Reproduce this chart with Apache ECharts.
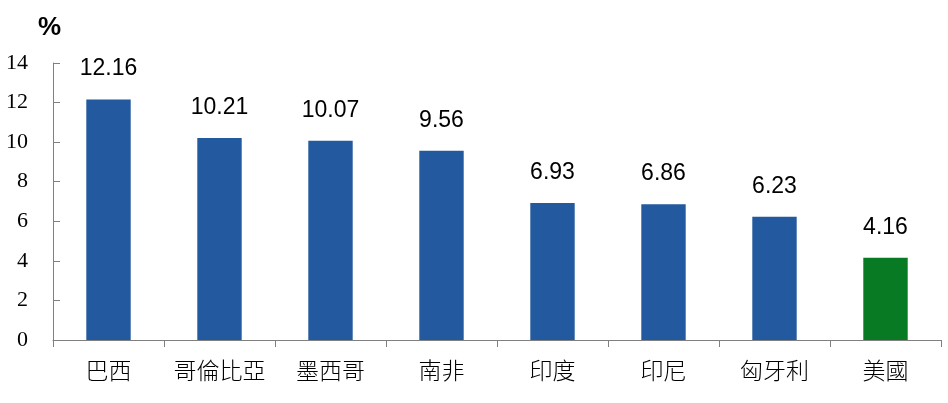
<!DOCTYPE html>
<html>
<head>
<meta charset="utf-8">
<script src="https://cdn.jsdelivr.net/npm/echarts@6/dist/echarts.min.js"></script>
<style>
  html, body { margin: 0; padding: 0; background: #fff; }
  #chart { width: 948px; height: 403px; }
</style>
</head>
<body>
<div id="chart"></div>
<script>
var countries = ['巴西', '哥倫比亞', '墨西哥', '南非', '印度', '印尼', '匈牙利', '美國'];
var rates = [12.16, 10.21, 10.07, 9.56, 6.93, 6.86, 6.23, 4.16];
var barColors = ['#23599e', '#23599e', '#23599e', '#23599e', '#23599e', '#23599e', '#23599e', '#077a23'];

var chart = echarts.init(document.getElementById('chart'));
var option = {
    animation: false,
    title: {
        text: '%',
        left: 33,
        top: 10,
        textStyle: { fontFamily: 'Liberation Sans', fontSize: 26, fontWeight: 'bold', color: '#000' }
    },
    grid: { left: 53, right: 7, top: 63, bottom: 63 },
    xAxis: {
        type: 'category',
        data: countries,
        axisLine: { lineStyle: { color: '#808080', width: 1 } },
        axisTick: { show: true, interval: 0, alignWithLabel: false, length: 7, lineStyle: { color: '#808080' } },
        axisLabel: { interval: 0, fontFamily: 'Noto Sans CJK TC', fontSize: 23, fontWeight: 300, color: '#000', margin: 19 }
    },
    yAxis: {
        type: 'value',
        min: 0,
        max: 14,
        interval: 2,
        splitLine: { show: false },
        axisLine: { show: true, lineStyle: { color: '#808080', width: 1 } },
        axisTick: { show: true, inside: true, length: 7, lineStyle: { color: '#808080' } },
        axisLabel: { fontFamily: 'Liberation Serif', fontSize: 22, color: '#000', margin: 25 }
    },
    series: [{
        type: 'bar',
        data: rates.map(function (v, i) {
            return { value: v, itemStyle: { color: barColors[i] } };
        }),
        barWidth: '40%',
        label: {
            show: true,
            position: 'top',
            distance: 19,
            fontFamily: 'Liberation Sans',
            fontSize: 23,
            color: '#000',
            formatter: function (p) { return p.value.toFixed(2); }
        }
    }]
};
chart.setOption(option);
</script>
</body>
</html>
